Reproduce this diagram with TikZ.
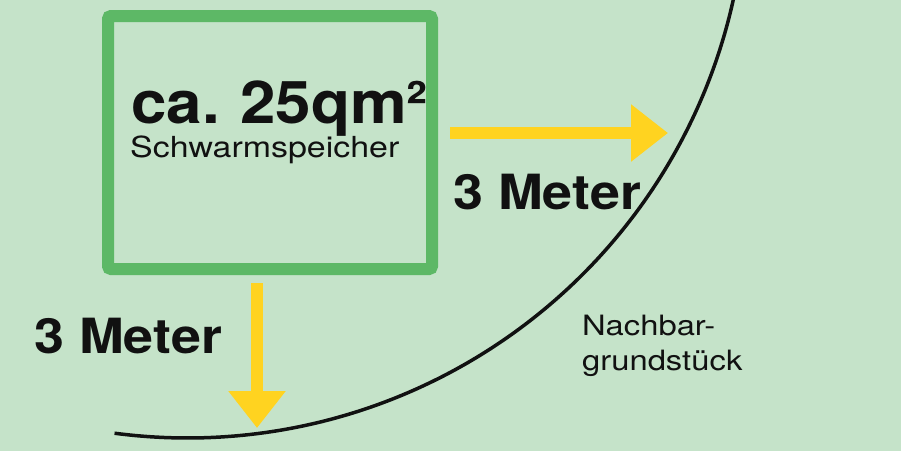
\documentclass[tikz,border=0pt]{standalone}
\usepackage{fontspec}
\usetikzlibrary{arrows.meta}
\newfontfamily\boldf[FakeStretch=1.08]{TeX Gyre Heros Bold}
\newfontfamily\meterf[FakeStretch=1.11]{TeX Gyre Heros Bold}
\newfontfamily\regf[FakeStretch=1.17]{TeX Gyre Heros}
\definecolor{bgc}{HTML}{C5E3C9}
\definecolor{boxgreen}{HTML}{5DB866}
\definecolor{arrowyellow}{HTML}{FFD320}
\definecolor{ink}{HTML}{111111}
\tikzset{
  storebox/.style={draw=boxgreen, line width=12pt, rounded corners=3pt, inner sep=0pt, minimum width=324pt, minimum height=253pt},
  bigarrow/.style={draw=arrowyellow, line width=12.5pt, -{Triangle[length=37pt,width=55pt]}},
  bigtext/.style={inner sep=0pt, anchor=base west, text=ink, font=\boldf\fontsize{59}{60}\selectfont},
  subtext/.style={inner sep=0pt, anchor=base west, text=ink, font=\regf\fontsize{29}{33}\selectfont},
  metertext/.style={inner sep=0pt, anchor=base west, text=ink, font=\meterf\fontsize{48.5}{50}\selectfont},
  lottext/.style={inner sep=0pt, anchor=base west, text=ink, font=\regf\fontsize{28}{35}\selectfont},
  boundary/.style={draw=ink, line width=3.5pt}
}
\begin{document}
\begin{tikzpicture}[x=1pt,y=-1pt]
\fill[bgc] (0,0) rectangle (901,451);
\useasboundingbox (0,0) rectangle (901,451);
\begin{scope}
\clip (0,0) rectangle (901,451);
\draw[boundary] plot[domain=9:97.5, samples=150, smooth] ({187.5+559*cos(\x)}, {-121+559*sin(\x)});
\end{scope}
\node[storebox] (box) at (270,142.5) {};
\coordinate (hstart) at (450,133);
\coordinate (hend) at (668,133);
\coordinate (vstart) at (257,283);
\coordinate (vend) at (257,428);
\draw[bigarrow] (hstart) -- (hend);
\draw[bigarrow] (vstart) -- (vend);
\node[bigtext] (area) at (131,123) {ca.\hspace{-3pt} 25qm²};
\node[subtext] (name) at (130,157) {Schwarmspeicher};
\node[metertext] (m1) at (453,209) {3 Meter};
\node[metertext] (m2) at (34,353) {3 Meter};
\node[lottext] (lot1) at (582,335) {Nachbar-};
\node[lottext] (lot2) at (582,370) {grundstück};
\end{tikzpicture}
\end{document}
